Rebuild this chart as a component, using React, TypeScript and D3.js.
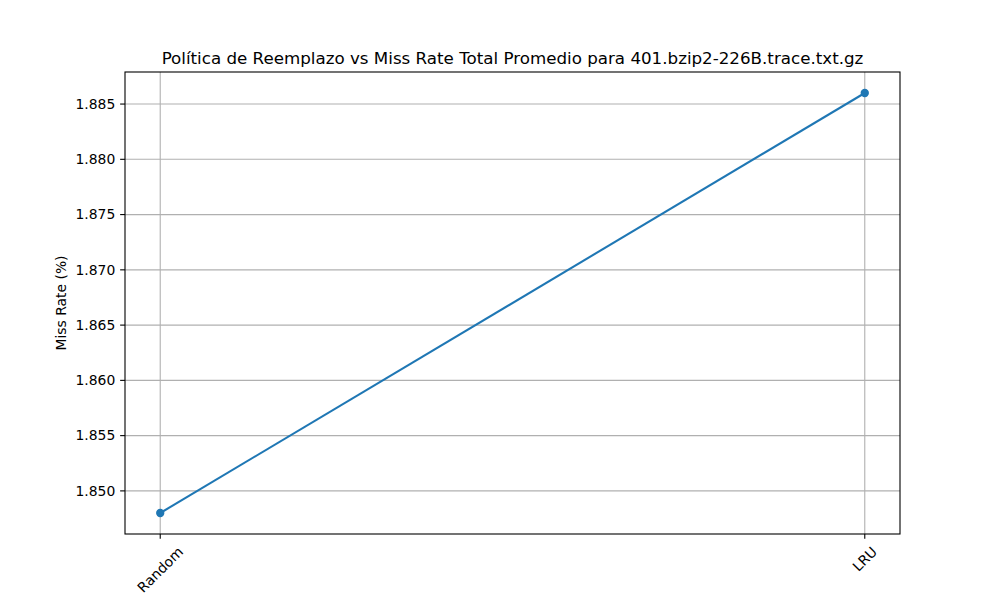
import * as d3 from "d3";
import { useRef, useEffect } from "react";

// Daten aus dem Bild
const policies = ["Random", "LRU"];
const missRates = [1.848, 1.886];
const yTicks = [1.85, 1.855, 1.86, 1.865, 1.87, 1.875, 1.88, 1.885];
const titleText = "Política de Reemplazo vs Miss Rate Total Promedio para 401.bzip2-226B.trace.txt.gz";

export default function App() {
  const svgRef = useRef<SVGSVGElement | null>(null);
  const width = 1000;
  const height = 600;

  useEffect(() => {
    if (!svgRef.current) return;
    const margin = { top: 72, right: 100, bottom: 66, left: 125 };
    const innerW = width - margin.left - margin.right;
    const innerH = height - margin.top - margin.bottom;
    const font = "DejaVu Sans, sans-serif";

    const svg = d3.select(svgRef.current);
    svg.selectAll("*").remove();
    svg.append("rect").attr("width", width).attr("height", height).attr("fill", "#fff");

    // matplotlib-artige Ränder (5%)
    const x = d3.scalePoint<string>().domain(policies).range([0, innerW]).padding(0);
    const xPad = innerW * 0.05 / 1.1;
    x.range([xPad, innerW - xPad]);
    const lo = d3.min(missRates)!;
    const hi = d3.max(missRates)!;
    const pad = (hi - lo) * 0.05;
    const y = d3.scaleLinear().domain([lo - pad, hi + pad]).range([innerH, 0]);

    const g = svg.append("g").attr("transform", `translate(${margin.left},${margin.top})`);

    // Gitter
    g.append("g")
      .selectAll("line.h")
      .data(yTicks)
      .join("line")
      .attr("x1", 0).attr("x2", innerW)
      .attr("y1", d => y(d)).attr("y2", d => y(d))
      .attr("stroke", "#b0b0b0").attr("stroke-width", 1.1);
    g.append("g")
      .selectAll("line.v")
      .data(policies)
      .join("line")
      .attr("x1", d => x(d)!).attr("x2", d => x(d)!)
      .attr("y1", 0).attr("y2", innerH)
      .attr("stroke", "#b0b0b0").attr("stroke-width", 1.1);

    // Linie + Punkte
    const line = d3.line<number>().x((_, i) => x(policies[i])!).y(d => y(d));
    g.append("path")
      .datum(missRates)
      .attr("d", line)
      .attr("fill", "none")
      .attr("stroke", "#1f77b4")
      .attr("stroke-width", 2.08);
    g.selectAll("circle")
      .data(missRates)
      .join("circle")
      .attr("cx", (_, i) => x(policies[i])!)
      .attr("cy", d => y(d))
      .attr("r", 4.17)
      .attr("fill", "#1f77b4");

    // Rahmen
    g.append("rect")
      .attr("width", innerW).attr("height", innerH)
      .attr("fill", "none").attr("stroke", "#000").attr("stroke-width", 1.1);

    // Y-Achse
    const yAxis = g.append("g");
    yAxis.selectAll("line")
      .data(yTicks)
      .join("line")
      .attr("x1", -4.86).attr("x2", 0)
      .attr("y1", d => y(d)).attr("y2", d => y(d))
      .attr("stroke", "#000").attr("stroke-width", 1.1);
    yAxis.selectAll("text")
      .data(yTicks)
      .join("text")
      .attr("x", -9.7)
      .attr("y", d => y(d))
      .attr("dy", "0.35em")
      .attr("text-anchor", "end")
      .style("font", `13.9px ${font}`)
      .text(d => d3.format(".3f")(d));

    // X-Achse mit gedrehten Beschriftungen
    const xAxis = g.append("g").attr("transform", `translate(0,${innerH})`);
    xAxis.selectAll("line")
      .data(policies)
      .join("line")
      .attr("x1", d => x(d)!).attr("x2", d => x(d)!)
      .attr("y1", 0).attr("y2", 4.86)
      .attr("stroke", "#000").attr("stroke-width", 1.1);
    xAxis.selectAll("text")
      .data(policies)
      .join("text")
      .attr("text-anchor", "middle")
      .attr("dy", "0.35em")
      .style("font", `13.9px ${font}`)
      .text(d => d)
      .each(function (d) {
        const el = this as SVGTextElement;
        const w = el.getComputedTextLength();
        const h = 16;
        const bh = (w + h) / Math.SQRT2;
        const cy = 9.7 + bh / 2;
        d3.select(el).attr("transform", `translate(${x(d)},${cy}) rotate(-45)`);
      });

    // Achsentitel
    svg.append("text")
      .attr("transform", `translate(66,${margin.top + innerH / 2}) rotate(-90)`)
      .attr("text-anchor", "middle")
      .style("font", `13.9px ${font}`)
      .text("Miss Rate (%)");
    svg.append("text")
      .attr("x", margin.left + innerW / 2)
      .attr("y", 612)
      .attr("text-anchor", "middle")
      .style("font", `13.9px ${font}`)
      .text("Política de Reemplazo");

    svg.append("text")
      .attr("x", margin.left + innerW / 2)
      .attr("y", 64)
      .attr("text-anchor", "middle")
      .style("font", `16.7px ${font}`)
      .text(titleText);
  }, []);

  return (
    <svg
      ref={svgRef}
      width={width}
      height={height}
      style={{ position: "absolute", left: 0, top: 0, display: "block" }}
    />
  );
}
